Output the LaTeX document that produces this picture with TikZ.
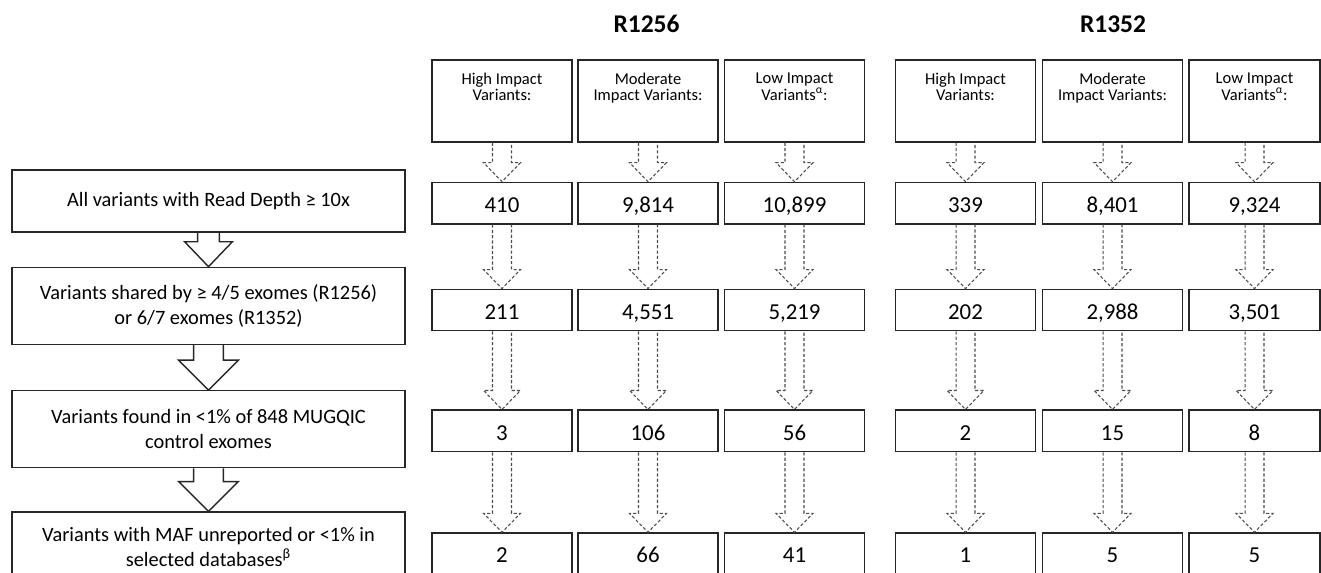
\documentclass[tikz,border=0pt]{standalone}
\usepackage{fontspec}
\setmainfont{Carlito}
\usepackage{tikz}
\usetikzlibrary{positioning,calc}

% hollow block arrow: [style]{from}{to}{shaft half width}{head half width}{head length}
\newcommand{\blockarrow}[6][]{%
  \draw[#1] let \p1=(#2.south), \p2=(#3.north) in
    (\x1-#4,\y1) -- (\x1-#4,\y2+#6) -- (\x1-#5,\y2+#6) -- (\x1,\y2)
    -- (\x1+#5,\y2+#6) -- (\x1+#4,\y2+#6) -- (\x1+#4,\y1);}

\begin{document}
\begin{tikzpicture}[
    x=0.02cm, y=-0.02cm,
    stepbox/.style={draw=black!85, line width=0.8pt, minimum width=7.86cm, align=center, inner sep=0pt, font=\fontsize{11.6}{14.2}\selectfont},
    colbox/.style={draw=black!85, line width=0.8pt, minimum width=2.8cm, minimum height=0.83cm, inner sep=0pt, text height=10.4pt, text depth=0pt, font=\fontsize{13}{15}\selectfont},
    headbox/.style={colbox, minimum height=1.64cm},
    headtext/.style={align=center, inner sep=0pt, font=\fontsize{9.4}{9.6}\selectfont},
    lastcol/.style={minimum width=2.62cm},
    grouptitle/.style={font=\bfseries\fontsize{14.5}{17}\selectfont},
    flowarrow/.style={draw=black!85, line width=0.8pt, line join=miter},
    dasharrow/.style={draw=black!70, line width=0.6pt, dash pattern=on 1.8pt off 1.2pt}
]
\useasboundingbox (0,0) rectangle (1321,573);
\clip (0,0) rectangle (1321,573);

% filtering steps
\node [stepbox, minimum height=1.24cm] (rd) at (208.5,201) {All variants with Read Depth ≥ 10x};
\node [stepbox, minimum height=1.54cm, below=0.68cm of rd] (shared) {Variants shared by ≥ 4/5 exomes (R1256)\\or 6/7 exomes (R1352)};
\node [stepbox, minimum height=1.54cm, below=0.9cm of shared] (ctrl) {Variants found in <1\% of 848 MUGQIC\\control exomes};
\node [stepbox, minimum height=1.38cm, below=0.86cm of ctrl] (maf) {Variants with MAF unreported or <1\% in\\selected databases\textsuperscript{β}};

\blockarrow[flowarrow]{rd}{shared}{6.2pt}{13.6pt}{14.2pt}
\blockarrow[flowarrow]{shared}{ctrl}{8.5pt}{17pt}{17pt}
\blockarrow[flowarrow]{ctrl}{maf}{8.5pt}{17pt}{17pt}

% families
\node [grouptitle] (r1256) at (646.5,24) {R1256};
\node [grouptitle] (r1352) at (1113,24) {R1352};

\node [headbox] (h1) at (502,101) {};
\node [headbox] (h2) at (648,101) {};
\node [headbox] (h3) at (794.5,101) {};
\node [headbox] (h4) at (965.5,101) {};
\node [headbox] (h5) at (1112.5,101) {};
\node [headbox, lastcol] (h6) at (1254.5,101) {};

\node [headtext, below=0.26cm of h1.north] (h1t) {High Impact\\Variants:};
\node [headtext, below=0.26cm of h2.north] (h2t) {Moderate\\Impact Variants:};
\node [headtext, below=0.26cm of h3.north] (h3t) {Low Impact\\Variants\textsuperscript{α}:};
\node [headtext, below=0.26cm of h4.north] (h4t) {High Impact\\Variants:};
\node [headtext, below=0.26cm of h5.north] (h5t) {Moderate\\Impact Variants:};
\node [headtext, below=0.26cm of h6.north] (h6t) {Low Impact\\Variants\textsuperscript{α}:};

% read depth
\node [colbox, below=0.78cm of h1] (dp1) {410};
\node [colbox, below=0.78cm of h2] (dp2) {9,814};
\node [colbox, below=0.78cm of h3] (dp3) {10,899};
\node [colbox, below=0.78cm of h4] (dp4) {339};
\node [colbox, below=0.78cm of h5] (dp5) {8,401};
\node [colbox, lastcol, below=0.78cm of h6] (dp6) {9,324};

% shared
\node [colbox, below=1.28cm of dp1] (sh1) {211};
\node [colbox, below=1.28cm of dp2] (sh2) {4,551};
\node [colbox, below=1.28cm of dp3] (sh3) {5,219};
\node [colbox, below=1.28cm of dp4] (sh4) {202};
\node [colbox, below=1.28cm of dp5] (sh5) {2,988};
\node [colbox, lastcol, below=1.28cm of dp6] (sh6) {3,501};

% control exomes
\node [colbox, below=1.56cm of sh1] (ct1) {3};
\node [colbox, below=1.56cm of sh2] (ct2) {106};
\node [colbox, below=1.56cm of sh3] (ct3) {56};
\node [colbox, below=1.56cm of sh4] (ct4) {2};
\node [colbox, below=1.56cm of sh5] (ct5) {15};
\node [colbox, lastcol, below=1.56cm of sh6] (ct6) {8};

% MAF
\node [colbox, below=1.6cm of ct1] (mf1) {2};
\node [colbox, below=1.6cm of ct2] (mf2) {66};
\node [colbox, below=1.6cm of ct3] (mf3) {41};
\node [colbox, below=1.6cm of ct4] (mf4) {1};
\node [colbox, below=1.6cm of ct5] (mf5) {5};
\node [colbox, lastcol, below=1.6cm of ct6] (mf6) {5};

\foreach \c in {1,...,6} {
  \blockarrow[dasharrow]{h\c}{dp\c}{5.4pt}{10.5pt}{10.8pt}
  \blockarrow[dasharrow]{dp\c}{sh\c}{5.4pt}{10.5pt}{10.8pt}
  \blockarrow[dasharrow]{sh\c}{ct\c}{5.4pt}{10.5pt}{10.8pt}
  \blockarrow[dasharrow]{ct\c}{mf\c}{5.4pt}{10.5pt}{10.8pt}
}

\end{tikzpicture}
\end{document}
